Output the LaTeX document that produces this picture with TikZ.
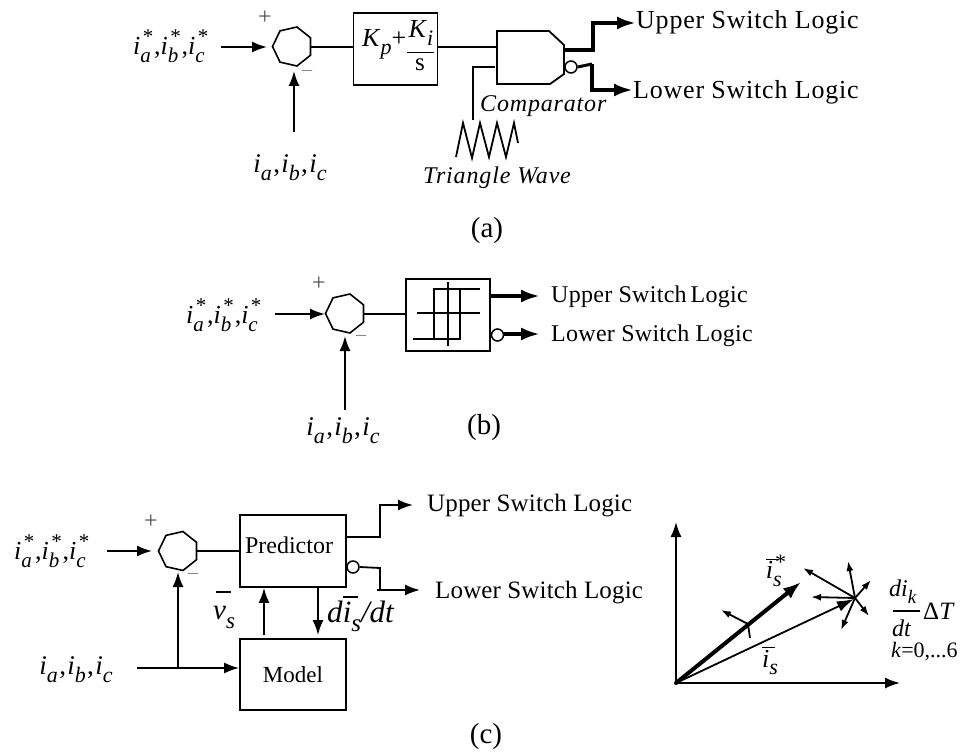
\documentclass[tikz,border=0pt]{standalone}
\usepackage{fontspec}
\setmainfont{Liberation Serif}
\newfontfamily\lsa[LetterSpace=3]{Liberation Serif}
\newfontfamily\lsb[LetterSpace=1.2]{Liberation Serif}
\newfontfamily\lsc[LetterSpace=0.6]{Liberation Serif}
\newfontfamily\lsi[LetterSpace=3.5,ItalicFont={Liberation Serif Italic}]{Liberation Serif}
\usetikzlibrary{arrows.meta,shapes.geometric,calc}
\newcommand{\fs}[1]{\fontsize{#1}{#1}\selectfont}
\newcommand{\isubsup}[1]{\textit{i}\rlap{\raisebox{-0.32em}{\fs{21}\textit{#1}}}\raisebox{0.42em}{\fs{21}\hspace{0.12em}*}\hspace{0.03em}}
\newcommand{\isub}[1]{\textit{i}\raisebox{-0.3em}{\fs{22}\textit{#1}}}
\newcommand{\iStar}{\fs{26}\isubsup{a},\isubsup{b},\isubsup{c}}
\newcommand{\iPlain}{\fs{27}\isub{a}\hspace{0.05em},\hspace{0.05em}\isub{b}\hspace{0.05em},\hspace{0.05em}\isub{c}}
\newcommand{\obar}[2]{\rlap{\hspace{#1}\raisebox{#2}{\rule{0.5em}{1.5pt}}}}
\tikzset{
  x=1pt,y=-1pt,
  line/.style={line width=1.8pt},
  arr/.style={line width=1.8pt,-{Latex[length=15pt,width=11pt]}},
  bigarr/.style={line width=4pt,-{Latex[length=19pt,width=13pt]}},
  sumnode/.style={regular polygon,regular polygon sides=7,draw,line width=1.6pt,minimum size=40pt,inner sep=0pt,shape border rotate=90},
  blockbox/.style={draw,line width=1.8pt,inner sep=0pt},
  bubble/.style={circle,draw,line width=1.5pt,minimum size=12pt,inner sep=0pt},
  lab/.style={inner sep=0pt,font=\fs{24}},
  small/.style={inner sep=0pt,font=\fs{24},text=black!70},
  minuslab/.style={inner sep=0pt,font=\fs{18},text=black!70},
}
\begin{document}
\begin{tikzpicture}
\useasboundingbox (0,0) rectangle (968,754);
% ---------- (a)
\node[sumnode] (sa) at (292.5,46.5) {};
\node[lab,anchor=west] (ia) at (133,46) {\iStar};
\node[lab] (ipa) at (290,168) {\iPlain};
\node[small] (pa) at (265,18) {+};
\node[minuslab] (ma) at (307,71) {$-$};
\coordinate (ia1) at (221,47);
\coordinate (ia2) at (267,47);
\coordinate (ipa1) at (294,132);
\coordinate (ipa2) at (294,71);
\draw[arr] (ia1) -- (ia2);
\draw[arr] (ipa1) -- (ipa2);
\node[blockbox,minimum width=84pt,minimum height=72pt] (kb) at (395.5,49) {};
\node[lab,anchor=west,font=\fs{26}] (kt) at (362,44) {\textit{K}\raisebox{-0.3em}{\fs{22}\textit{p}}+};
\node[lab,font=\fs{26}] (kn) at (421,33) {\textit{K}\raisebox{-0.3em}{\fs{22}\textit{i}}};
\node[lab,font=\fs{25}] (kd) at (420,65) {s};
\coordinate (kl1) at (407,52.5);
\coordinate (kl2) at (434,52.5);
\draw[line] (kl1) -- (kl2);
\draw[line] (sa.east |- 0,47) -- (kb.west |- 0,47);
\coordinate (c1) at (497,31);
\coordinate (c2) at (549,31);
\coordinate (c3) at (564,45);
\coordinate (c4) at (564,74);
\coordinate (c5) at (550,84);
\coordinate (c6) at (497,84);
\draw[line width=1.8pt] (c1) -- (c2) -- (c3) -- (c4) -- (c5) -- (c6) -- cycle;
\coordinate (cin) at (496,47);
\draw[line] (kb.east |- 0,47) -- (cin);
\node[bubble] (ba) at (571,67) {};
\coordinate (u1) at (565,50);
\coordinate (u2) at (593,50);
\coordinate (u3) at (593,23);
\node[lab,anchor=west,font=\fs{26}] (ua) at (636,22) {\lsa Upper Switch Logic};
\node[lab,anchor=west,font=\fs{26}] (la) at (633,92) {\lsa Lower Switch Logic};
\draw[bigarr] (u1) -- (u2) -- (u3) -- (ua.west |- u3);
\coordinate (l2) at (592,64);
\coordinate (l3) at (592,90);
\draw[line width=3pt] (ba.east) -- (l2);
\draw[bigarr] (l2) -- (l3) -- (la.west |- l3);
\coordinate (t0) at (473,120);
\coordinate (t1) at (473,67);
\coordinate (t2) at (495,67);
\draw[line] (t0) -- (t1) -- (t2);
\draw[line] (456,157) -- (463,123) -- (472,158) -- (480,123) -- (489,157) -- (497,123) -- (506,157) -- (514,123) -- (518,143);
\node[lab,anchor=west] (cmp) at (480,106) {\lsi\itshape Comparator};
\node[lab,anchor=west] (tri) at (423,178) {\lsi\itshape Triangle Wave};
\node[lab,font=\fs{29}] (capa) at (487,231) {(a)};
% ---------- (b)
\node[sumnode] (sb) at (345.5,313.5) {};
\node[lab,anchor=west] (ib) at (186,315) {\iStar};
\node[lab] (ipb) at (343,431) {\iPlain};
\node[small] (pb) at (319,284) {+};
\node[minuslab] (mb) at (361,336) {$-$};
\coordinate (ib1) at (275,314);
\coordinate (ib2) at (325,314);
\coordinate (ipb1) at (345,410);
\coordinate (ipb2) at (345,336);
\draw[arr] (ib1) -- (ib2);
\draw[arr] (ipb1) -- (ipb2);
\node[blockbox,minimum width=84pt,minimum height=72pt] (hb) at (448,315) {};
\draw[line] (sb.east |- 0,314) -- (hb.west |- 0,314);
\coordinate (h1) at (448,282);
\coordinate (h2) at (448,346);
\coordinate (h3) at (417,313);
\coordinate (h4) at (480,313);
\coordinate (h5) at (413,339);
\coordinate (h6) at (460,339);
\coordinate (h7) at (460,289);
\coordinate (h8) at (434,289);
\coordinate (h9) at (434,339);
\coordinate (h10) at (480,289);
\draw[line] (h1) -- (h2);
\draw[line] (h3) -- (h4);
\draw[line] (h5) -- (h6) -- (h7);
\draw[line] (h9) -- (h8) -- (h10);
\node[lab,anchor=west] (ub) at (551,297) {\lsb Upper Switch\hspace{-0.1em} Logic};
\node[lab,anchor=west] (lb) at (551,336) {\lsb Lower Switch Logic};
\node[bubble] (bb) at (497.5,335) {};
\draw[bigarr] (hb.east |- 0,296) -- ($(ub.west |- 0,296)+(-11,0)$);
\draw[bigarr] (bb.east |- 0,334) -- ($(lb.west |- 0,334)+(-11,0)$);
\node[lab,font=\fs{29}] (capb) at (484,428) {(b)};
% ---------- (c)
\node[sumnode] (sc) at (178.5,551) {};
\node[lab,anchor=west] (ic) at (14,551) {\iStar};
\node[lab] (ipc) at (76,670) {\iPlain};
\node[small] (pc) at (151,522) {+};
\node[minuslab] (mc) at (193,574) {$-$};
\coordinate (ic1) at (107,551);
\coordinate (ic2) at (152,551);
\draw[arr] (ic1) -- (ic2);
\node[blockbox,minimum width=106pt,minimum height=72pt] (pr) at (293,551) {};
\node[lab] (prt) at (289,545) {Predictor};
\node[blockbox,minimum width=106pt,minimum height=71pt,font=\fs{23}] (mo) at (293,674.5) {Model};
\draw[line] (sc.east |- 0,551) -- (pr.west |- 0,551);
\coordinate (mi1) at (137,668);
\coordinate (mi2) at (178,668);
\coordinate (mi3) at (178,572);
\draw[arr] (mi1) -- (mo.west |- mi1);
\draw[arr] (mi2) -- (mi3);
\coordinate (pu1) at (380,537);
\coordinate (pu2) at (380,505);
\node[lab,anchor=west,font=\fs{25}] (uc) at (427,506) {\lsc Upper Switch Logic};
\draw[arr] (pr.east |- pu1) -- (pu1) -- (pu2) -- ($(uc.west |- pu2)+(-14,0)$);
\node[bubble] (bc) at (353,567) {};
\coordinate (pl1) at (380,568);
\coordinate (pl2) at (380,590);
\coordinate (pl3) at (377,590);
\node[lab,anchor=west,font=\fs{25}] (lc) at (435,593) {\lsc Lower Switch Logic};
\draw[line] (bc.east) -- (pl1) -- (pl2);
\draw[arr] (pl3) -- ($(lc.west |- pl3)+(-15,0)$);
\coordinate (vsx) at (264,0);
\coordinate (dix) at (318,0);
\draw[arr] ($(mo.north -| vsx)+(0,-3)$) -- (pr.south -| vsx);
\draw[arr] (pr.south -| dix) -- ($(mo.north -| dix)+(0,-3)$);
\node[inner sep=0pt,font=\fs{29},anchor=west] (vs) at (213,610) {\obar{0.1em}{0.93em}\textit{v}\raisebox{-0.3em}{\fs{23}\textit{s}}};
\node[inner sep=0pt,font=\fs{31},anchor=west] (di) at (327,614) {\textit{d}\obar{0em}{0.8em}\textit{i}\raisebox{-0.3em}{\fs{25}\textit{s}}\textit{/dt}};
\node[lab,font=\fs{29}] (capc) at (486,737) {(c)};
% ---------- vector plot
\coordinate (o) at (676,683);
\coordinate (yt) at (676,522);
\coordinate (xt) at (900,683);
\coordinate (st) at (855,598);
\coordinate (bt) at (801,582);
\draw[arr] (o) -- (yt);
\draw[arr] (o) -- (xt);
\draw[line width=4pt,-{Latex[length=18pt,width=13pt]},line cap=round] (o) -- (bt);
\draw[line width=1.8pt,-{Latex[length=17pt,width=11pt]}] (o) -- ($(st)+(-1,1)$);
\tikzset{ray/.style={line width=1.8pt,-{Latex[length=10pt,width=7pt]}}}
\draw[ray] (st) -- (803,568);
\draw[ray] (st) -- (848,561);
\draw[ray] (st) -- (871,580);
\draw[ray] (st) -- (811,597);
\draw[ray] (st) -- (869,616);
\draw[ray] (st) -- (841,630);
\coordinate (cr) at (748,624);
\draw[ray] (cr) -- (721,610);
\draw[line] (cr) -- (750,638);
\node[lab,font=\fs{26}] (bl1) at (776,571) {\obar{0em}{0.72em}\textit{i}\rlap{\raisebox{-0.3em}{\fs{22}\textit{s}}}\raisebox{0.35em}{\fs{22}\hspace{0.1em}*}};
\node[lab,font=\fs{26}] (bl2) at (770,661) {\obar{0em}{0.72em}\textit{i}\raisebox{-0.3em}{\fs{22}\textit{s}}};
\node[lab,anchor=west] (dk) at (889,592) {\textit{di}\raisebox{-0.3em}{\fs{19}\textit{k}}};
\coordinate (f1) at (893,611);
\coordinate (f2) at (920,611);
\draw[line] (f1) -- (f2);
\node[lab,anchor=west,font=\fs{25}] (dT) at (923,611) {Δ\textit{T}};
\node[lab,anchor=west] (dt) at (892,628) {\textit{dt}};
\node[lab,anchor=west,font=\fs{22}] (kk) at (891,652) {\textit{k}=0,...6};
\end{tikzpicture}
\end{document}
